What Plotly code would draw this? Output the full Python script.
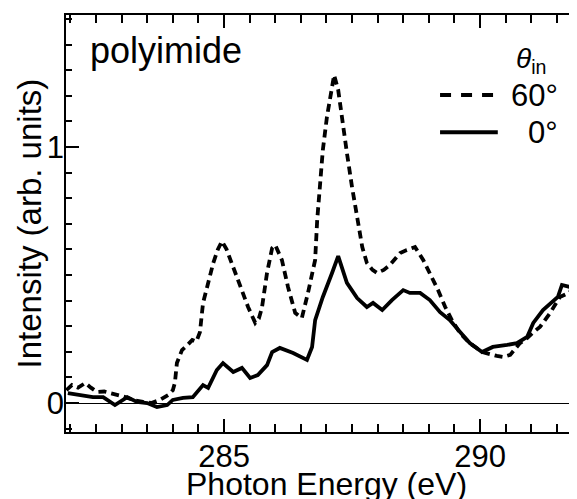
import plotly.graph_objects as go

# ---- data ----
energy_60 = [281.92, 282.03, 282.15, 282.29, 282.40, 282.52, 282.66, 282.81, 282.95, 283.07,
             283.25, 283.42, 283.58, 283.75, 283.91, 284.00, 284.04, 284.08, 284.18, 284.28,
             284.38, 284.46, 284.53, 284.59, 284.69, 284.79, 284.88, 284.96, 285.05, 285.18,
             285.35, 285.47, 285.61, 285.68, 285.74, 285.84, 285.94, 286.00, 286.13, 286.25,
             286.39, 286.52, 286.64, 286.78, 286.82, 286.88, 286.93, 287.01, 287.11, 287.15,
             287.23, 287.32, 287.40, 287.50, 287.60, 287.70, 287.79, 287.90, 287.99, 288.12,
             288.24, 288.44, 288.57, 288.73, 288.89, 289.06, 289.18, 289.32, 289.45, 289.61,
             289.80, 290.04, 290.20, 290.33, 290.45, 290.59, 290.78, 290.90, 291.02, 291.17,
             291.37, 291.56, 291.76, 291.89]
intensity_60 = [0.050, 0.070, 0.060, 0.078, 0.060, 0.043, 0.045, 0.039, 0.030, 0.023,
                0.010, 0.004, 0.000, 0.012, 0.031, 0.050, 0.078, 0.156, 0.207, 0.225,
                0.246, 0.240, 0.277, 0.390, 0.469, 0.547, 0.600, 0.632, 0.600, 0.531,
                0.441, 0.375, 0.313, 0.330, 0.371, 0.508, 0.605, 0.617, 0.559, 0.453,
                0.352, 0.332, 0.430, 0.559, 0.715, 0.844, 0.988, 1.117, 1.234, 1.281,
                1.223, 1.105, 0.977, 0.844, 0.715, 0.609, 0.547, 0.520, 0.508, 0.520,
                0.539, 0.586, 0.598, 0.609, 0.559, 0.492, 0.441, 0.375, 0.324, 0.273,
                0.234, 0.199, 0.190, 0.184, 0.180, 0.188, 0.234, 0.250, 0.273, 0.297,
                0.352, 0.414, 0.433, 0.527]

energy_0 = [281.95, 282.19, 282.44, 282.64, 282.87, 283.11, 283.30, 283.50, 283.69, 283.89,
            284.00, 284.20, 284.39, 284.59, 284.69, 284.86, 284.98, 285.18, 285.35, 285.51,
            285.66, 285.84, 285.94, 286.09, 286.35, 286.62, 286.72, 286.78, 286.93, 287.11,
            287.23, 287.40, 287.60, 287.79, 287.91, 288.09, 288.28, 288.50, 288.63, 288.83,
            289.02, 289.22, 289.41, 289.61, 289.80, 290.04, 290.25, 290.53, 290.72, 290.92,
            291.04, 291.23, 291.43, 291.52, 291.60, 291.76, 291.89]
intensity_0 = [0.039, 0.031, 0.023, 0.023, -0.008, 0.023, 0.004, 0.000, -0.016, -0.008,
               0.012, 0.020, 0.023, 0.070, 0.059, 0.129, 0.156, 0.121, 0.137, 0.098,
               0.109, 0.148, 0.199, 0.215, 0.195, 0.168, 0.219, 0.324, 0.414, 0.508,
               0.574, 0.469, 0.410, 0.375, 0.391, 0.363, 0.402, 0.441, 0.430, 0.430,
               0.402, 0.355, 0.324, 0.277, 0.234, 0.199, 0.219, 0.227, 0.234, 0.258,
               0.313, 0.363, 0.395, 0.414, 0.461, 0.453, 0.531]

series_labels = ["60°", "0°"]
x_tick_vals = [285, 290]
y_tick_vals = [0, 1]

FONT = "Liberation Sans, Arial, sans-serif"

fig = go.Figure()
fig.add_trace(go.Scatter(x=energy_60, y=intensity_60, mode="lines", name=series_labels[0],
                         line=dict(color="black", width=3.8, dash="8px,5px"),
                         showlegend=False))
fig.add_trace(go.Scatter(x=energy_0, y=intensity_0, mode="lines", name=series_labels[1],
                         line=dict(color="black", width=3.8),
                         showlegend=False))

axis_common = dict(showgrid=False, showline=True, linecolor="black", linewidth=1.5,
                   ticks="inside", tickcolor="black", tickwidth=1.5, ticklen=13,
                   tickfont=dict(family=FONT, size=31, color="black"))

fig.update_xaxes(range=[281.914, 291.894], tickvals=x_tick_vals, mirror="ticks",
                 minor=dict(dtick=0.5, tick0=285, ticks="inside", ticklen=8,
                            tickwidth=1.5, tickcolor="black", showgrid=False),
                 zeroline=False, ticklabelstandoff=-4, **axis_common)
fig.update_yaxes(range=[-0.1133, 1.5156], tickvals=y_tick_vals, mirror=False,
                 minor=dict(dtick=0.1, tick0=0, ticks="inside", ticklen=6,
                            tickwidth=1.5, tickcolor="black", showgrid=False),
                 zeroline=True, zerolinecolor="black", zerolinewidth=1,
                 ticklabelstandoff=-6, **axis_common)

# legend drawn as line samples + labels
fig.add_shape(type="line", xref="paper", yref="paper", x0=0.732, x1=0.840, y0=0.808, y1=0.808,
              line=dict(color="black", width=4, dash="11px,10px"))
fig.add_shape(type="line", xref="paper", yref="paper", x0=0.732, x1=0.845, y0=0.719, y1=0.719,
              line=dict(color="black", width=4))

annots = [
    dict(text=series_labels[0], x=0.967, y=0.808, xanchor="right", yanchor="middle",
         font=dict(family=FONT, size=31, color="black")),
    dict(text=series_labels[1], x=0.967, y=0.719, xanchor="right", yanchor="middle",
         font=dict(family=FONT, size=31, color="black")),
    dict(text="<i>θ</i><sub>in</sub>", x=0.91, y=0.89, xanchor="center", yanchor="middle",
         font=dict(family=FONT, size=28, color="black")),
    dict(text="polyimide", x=0.043, y=0.914, xanchor="left", yanchor="middle",
         font=dict(family=FONT, size=36, color="black")),
    dict(text="Photon Energy (eV)", x=0.509, y=-0.124, xanchor="center", yanchor="middle",
         font=dict(family=FONT, size=32, color="black")),
    dict(text="Intensity (arb. units)", x=-0.0705, y=0.5, xanchor="center", yanchor="middle",
         textangle=-90, font=dict(family=FONT, size=33, color="black")),
]
for a in annots:
    fig.add_annotation(xref="paper", yref="paper", showarrow=False, **a)

# the page body has an 8px margin, so the figure is 8px smaller on each axis
fig.update_layout(width=569, height=491, margin=dict(l=58, r=0, t=7, b=67),
                  plot_bgcolor="white", paper_bgcolor="white", showlegend=False)

fig.write_html("out.html")
